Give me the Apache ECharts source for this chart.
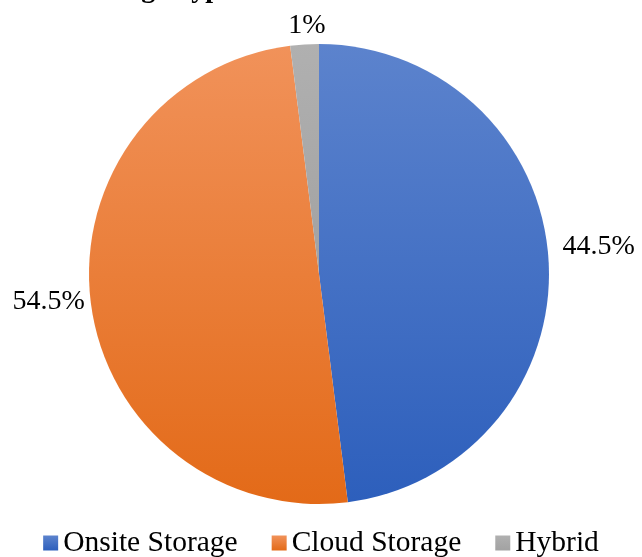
<!DOCTYPE html>
<html>
<head>
<meta charset="utf-8">
<script src="https://cdn.jsdelivr.net/npm/echarts@6/dist/echarts.min.js"></script>
<style>
html,body{margin:0;padding:0;background:#fff;}
#chart{width:642px;height:557px;}
</style>
</head>
<body>
<div id="chart"></div>
<script>
var categories = ['Onsite Storage', 'Cloud Storage', 'Hybrid'];
var sliceValues = [48, 50, 2];
var sliceLabels = ['44.5%', '54.5%', '1%'];
var titleText = 'Storage Type';

var gradients = [
  ['#5c83cd', '#2d5fbc'],
  ['#f1925a', '#e36a18'],
  ['#b0b0b0', '#a2a2a2']
];
var font = '"Liberation Serif", "Times New Roman", serif';

var chart = echarts.init(document.getElementById('chart'));
chart.setOption({
  animation: false,
  title: {
    text: titleText,
    left: 71,
    top: -29,
    textStyle: { fontFamily: font, fontWeight: 'bold', fontSize: 28, color: '#000' }
  },
  legend: {
    bottom: -6,
    left: 'center',
    icon: 'rect',
    itemWidth: 15,
    itemHeight: 15,
    itemGap: 34,
    data: categories,
    textStyle: { fontFamily: font, fontSize: 29.5, color: '#000' }
  },
  series: [{
    type: 'pie',
    center: [319, 274],
    radius: [0, 230],
    startAngle: 90,
    clockwise: true,
    data: categories.map(function (c, i) {
      return {
        name: c,
        value: sliceValues[i],
        itemStyle: {
          color: new echarts.graphic.LinearGradient(0, 0, 0, 1, [
            { offset: 0, color: gradients[i][0] },
            { offset: 1, color: gradients[i][1] }
          ])
        }
      };
    }),
    label: {
      show: true,
      position: 'outside',
      overflow: 'none',
      formatter: function (p) { return sliceLabels[p.dataIndex]; },
      fontFamily: font,
      fontSize: 28,
      color: '#000'
    },
    labelLine: { show: false, length: 12, length2: 0 },
    labelLayout: function (p) {
      if (p.dataIndex === 2) return { align: 'center', dx: 8, dy: -7 };
      if (p.dataIndex === 0) return { dy: -12, dx: -3 };
      if (p.dataIndex === 1) return { dy: -3, dx: 11 };
      return {};
    },
    emphasis: { disabled: true }
  }]
});
</script>
</body>
</html>
